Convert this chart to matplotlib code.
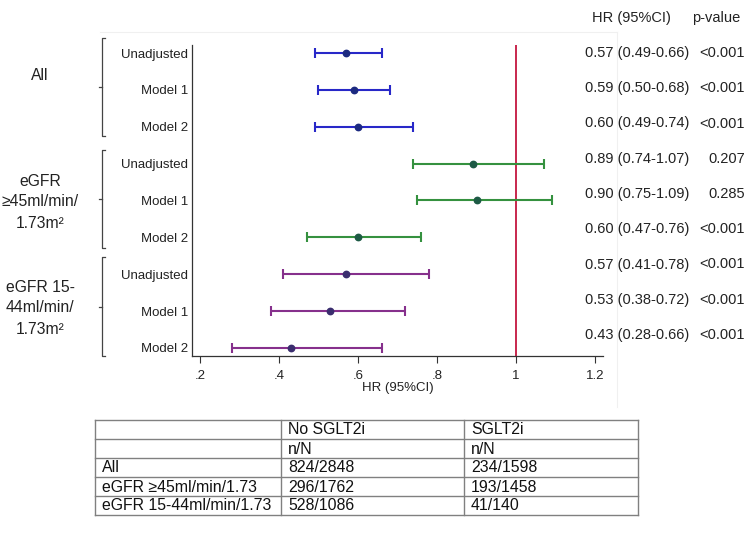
import matplotlib
matplotlib.use("Agg")
import matplotlib.pyplot as plt
from matplotlib.lines import Line2D

plt.rcParams['font.family'] = ['Liberation Sans', 'DejaVu Sans']

# ---------------- data ----------------
row_labels = ["Unadjusted", "Model 1", "Model 2"] * 3
hr = [0.57, 0.59, 0.60, 0.89, 0.90, 0.60, 0.57, 0.53, 0.43]
lo = [0.49, 0.50, 0.49, 0.74, 0.75, 0.47, 0.41, 0.38, 0.28]
hi = [0.66, 0.68, 0.74, 1.07, 1.09, 0.76, 0.78, 0.72, 0.66]
pvals = ["<0.001", "<0.001", "<0.001", "0.207", "0.285", "<0.001", "<0.001", "<0.001", "<0.001"]
groups = ["All", "eGFR\n≥45ml/min/\n1.73m²", "eGFR 15-\n44ml/min/\n1.73m²"]
group_line_colors = ["#2828c8", "#35913f", "#86308c"]
group_marker_colors = ["#1c2a80", "#1d5a45", "#3a2d6e"]
xticks = [0.2, 0.4, 0.6, 0.8, 1.0, 1.2]
xtick_labels = [".2", ".4", ".6", ".8", "1", "1.2"]

table_header = ["", "No SGLT2i", "SGLT2i"]
table_sub = ["", "n/N", "n/N"]
table_rows = ["All", "eGFR ≥45ml/min/1.73", "eGFR 15-44ml/min/1.73"]
no_sglt2i = ["824/2848", "296/1762", "528/1086"]
sglt2i = ["234/1598", "193/1458", "41/140"]

# ---------------- figure ----------------
W, H = 756, 542
fig = plt.figure(figsize=(W / 100, H / 100), dpi=100)
fig.patch.set_facecolor("white")

# overlay axes in pixel coordinates (for annotations / table)
ov = fig.add_axes([0, 0, 1, 1], zorder=0)
ov.set_xlim(0, W)
ov.set_ylim(H, 0)
ov.axis("off")

# faint plot-region border
ov.add_line(Line2D([100, 617], [32, 32], color="#f0f0f0", lw=0.8))
ov.add_line(Line2D([617, 617], [32, 407], color="#f0f0f0", lw=0.8))

# forest axes
ax = fig.add_axes([192 / W, 1 - 356 / H, (603 - 192) / W, (356 - 45) / H], zorder=2)
ax.patch.set_alpha(0)
ypos = list(range(1, len(hr) + 1))
for i in range(len(hr)):
    g = i // 3
    ax.errorbar(hr[i], ypos[i], xerr=[[hr[i] - lo[i]], [hi[i] - hr[i]]],
                fmt="none", ecolor=group_line_colors[g], elinewidth=1.5,
                capsize=3.5, capthick=1.5, zorder=3)
    ax.plot(hr[i], ypos[i], "o", color=group_marker_colors[g], ms=4.6, zorder=4)
ax.axvline(1.0, color="#c4163f", lw=1.3, zorder=2)
ax.set_xlim(0.18, 1.22)
ax.set_ylim(9.22, 0.78)
ax.set_xticks(xticks)
ax.set_xticklabels(xtick_labels, fontsize=9.5, color="#222222")
ax.set_yticks(ypos)
ax.set_yticklabels(row_labels, fontsize=9.5, color="#222222")
ax.tick_params(axis="y", length=0, pad=3)
ax.tick_params(axis="x", length=5, width=0.8, pad=5, color="#333333")
for s in ["top", "right"]:
    ax.spines[s].set_visible(False)
for s in ["left", "bottom"]:
    ax.spines[s].set_color("#333333")
    ax.spines[s].set_linewidth(0.9)
ax.set_xlabel("HR (95%CI)", fontsize=9.5, color="#222222", labelpad=0)

# group labels and brackets
group_label_y = [75, 202, 308]
bracket_spans = [(38, 136), (150, 248), (257, 356)]
for g in range(3):
    ov.text(40, group_label_y[g], groups[g], ha="center", va="center",
            fontsize=11.3, color="#222222", linespacing=1.5)
    y0, y1 = bracket_spans[g]
    ym = (y0 + y1) / 2
    bx = 102
    ov.add_line(Line2D([bx + 3, bx, bx, bx + 3], [y0, y0, y1, y1], color="#444444", lw=0.9))
    ov.add_line(Line2D([bx, bx - 3], [ym, ym], color="#444444", lw=0.9))

# right-hand HR / p-value columns
ov.text(592, 18, "HR (95%CI)", ha="left", va="center", fontsize=10.5, color="#222222")
ov.text(740, 18, "p-value", ha="right", va="center", fontsize=10.5, color="#222222")
text_y0, text_dy = 53, 35.25
for i in range(len(hr)):
    y = text_y0 + i * text_dy
    ov.text(585, y, f"{hr[i]:.2f} ({lo[i]:.2f}-{hi[i]:.2f})", ha="left", va="center",
            fontsize=10.5, color="#222222")
    ov.text(745, y, pvals[i], ha="right", va="center", fontsize=10.5, color="#222222")

# table
col_x = [95, 281, 464, 638]
row_y = [420, 439, 458, 477, 496, 515]
tcol = "#808080"
for yy in row_y:
    ov.add_line(Line2D([col_x[0], col_x[-1]], [yy, yy], color=tcol, lw=1.0))
for xx in col_x:
    ov.add_line(Line2D([xx, xx], [row_y[0], row_y[-1]], color=tcol, lw=1.0))
table_cells = [table_header, table_sub] + [[table_rows[k], no_sglt2i[k], sglt2i[k]] for k in range(3)]
for r, row in enumerate(table_cells):
    yc = (row_y[r] + row_y[r + 1]) / 2 + 0.5
    for c, txt in enumerate(row):
        ov.text(col_x[c] + 7, yc, txt, ha="left", va="center", fontsize=11.4, color="#111111")

fig.savefig("out.png", dpi=100)
